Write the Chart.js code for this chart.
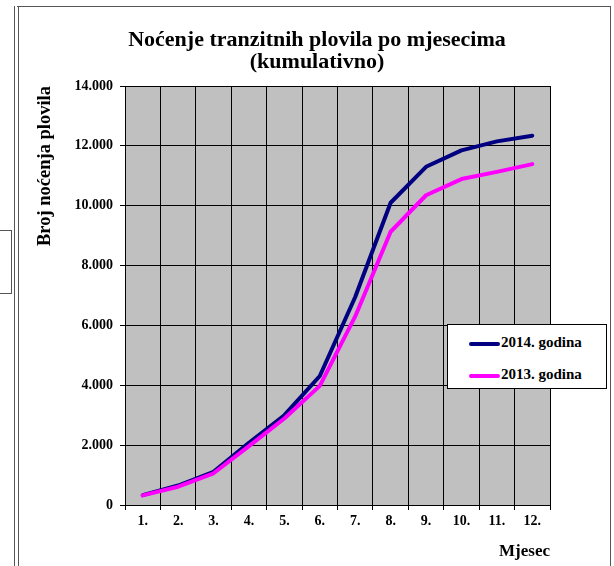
<!DOCTYPE html>
<html>
<head>
<meta charset="utf-8">
<script src="https://cdn.jsdelivr.net/npm/chart.js@4/dist/chart.umd.min.js"></script>
<style>
  html, body { margin: 0; padding: 0; background: #fff; }
  #wrap { position: relative; width: 614px; height: 566px; overflow: hidden; }
  #chart { position: absolute; left: 0; top: 0; }
  .frame { position: absolute; border: 1px solid #555; }
  #legend {
    position: absolute; left: 447px; top: 324px; width: 158px; height: 63px;
    background: #fff; border: 1px solid #000;
    font: bold 15px "Liberation Serif", serif; color: #000;
  }
  #legend .item { position: absolute; left: 21px; height: 16px; line-height: 16px; white-space: nowrap; }
  #legend .swatch { display: inline-block; width: 31px; height: 4px; border-radius: 2px; vertical-align: middle; margin-right: 1px; }
</style>
</head>
<body>
<div id="wrap">
  <div class="frame" style="left:14px; top:6px; width:3px; height:580px; border-top:none; border-bottom:none;"></div>
  <div class="frame" style="left:17px; top:6px; width:593px; height:580px; border-left:none;"></div>
  <div class="frame" style="left:-2px; top:230px; width:12px; height:62px;"></div>
  <canvas id="chart" width="614" height="566"></canvas>
  <div id="legend"></div>
</div>
<script>
const months = ['1.', '2.', '3.', '4.', '5.', '6.', '7.', '8.', '9.', '10.', '11.', '12.'];
const nights2014 = [330, 650, 1110, 2080, 3000, 4310, 6950, 10100, 11300, 11850, 12150, 12340];
const nights2013 = [320, 610, 1060, 1970, 2890, 3980, 6300, 9130, 10350, 10890, 11130, 11390];
const seriesNames = ['2014. godina', '2013. godina'];
const seriesColors = ['#000080', '#ff00ff'];

const serif = '"Liberation Serif", "Times New Roman", serif';

const fmt = v => v.toString().replace(/\B(?=(\d{3})+(?!\d))/g, '.');

// gray plot area behind the grid
const plotBg = {
    id: 'plotBg',
    beforeDraw(chart) {
        const a = chart.chartArea, ctx = chart.ctx;
        ctx.save();
        ctx.fillStyle = '#c0c0c0';
        ctx.fillRect(a.left, a.top, a.right - a.left, a.bottom - a.top);
        ctx.restore();
    }
};

const chart = new Chart(document.getElementById('chart'), {
    type: 'line',
    data: {
        labels: months,
        datasets: [
            { label: seriesNames[0], data: nights2014, borderColor: seriesColors[0], order: 1 },
            { label: seriesNames[1], data: nights2013, borderColor: seriesColors[1], order: 0 }
        ]
    },
    options: {
        responsive: false,
        animation: false,
        layout: { padding: { left: 20, right: 0, top: 0, bottom: 0 } },
        elements: {
            line: { borderWidth: 4, tension: 0, borderCapStyle: 'round', borderJoinStyle: 'round' },
            point: { radius: 0 }
        },
        plugins: {
            legend: { display: false },
            tooltip: { enabled: false },
            title: {
                display: true,
                text: ['Noćenje tranzitnih plovila po mjesecima', '(kumulativno)'],
                color: '#000',
                font: { family: serif, size: 22, weight: 'bold', lineHeight: 1.0 },
                padding: { top: 29, bottom: 13 }
            }
        },
        scales: {
            x: {
                offset: true,
                grid: { offset: true, color: '#000', lineWidth: 1, tickLength: 5, drawTicks: true },
                border: { color: '#000' },
                ticks: { color: '#000', font: { family: serif, size: 14, weight: 'bold' }, padding: 3, maxRotation: 0 },
                title: {
                    display: true, text: 'Mjesec', align: 'end', color: '#000',
                    font: { family: serif, size: 17, weight: 'bold' }, padding: { top: 9 }
                },
                afterFit(scale) { scale.height = 61; }
            },
            y: {
                min: 0, max: 14000,
                grid: { color: '#000', lineWidth: 1, tickLength: 5 },
                border: { color: '#000' },
                ticks: {
                    stepSize: 2000, color: '#000', padding: 7,
                    font: { family: serif, size: 14, weight: 'bold' },
                    callback: v => fmt(v)
                },
                title: {
                    display: true, text: 'Broj noćenja plovila', align: 'end', color: '#000',
                    font: { family: serif, size: 18.5, weight: 'bold' }, padding: { top: 14, bottom: 0 }
                },
                afterFit(scale) { scale.width = 105; }
            },
            // empty strip on the right, keeps room for the legend box
            spacer: {
                type: 'linear', position: 'right', display: true,
                grid: { drawOnChartArea: false, drawTicks: false },
                border: { display: false },
                ticks: { display: false },
                afterFit(scale) { scale.width = 64; }
            }
        }
    },
    plugins: [plotBg]
});

// legend box drawn over the plot, like the original
const legend = document.getElementById('legend');
chart.data.datasets.forEach((ds, i) => {
    const row = document.createElement('div');
    row.className = 'item';
    row.style.top = (9 + i * 32) + 'px';
    row.innerHTML = '<span class="swatch" style="background:' + ds.borderColor + '"></span>' + ds.label;
    legend.appendChild(row);
});
</script>
</body>
</html>
